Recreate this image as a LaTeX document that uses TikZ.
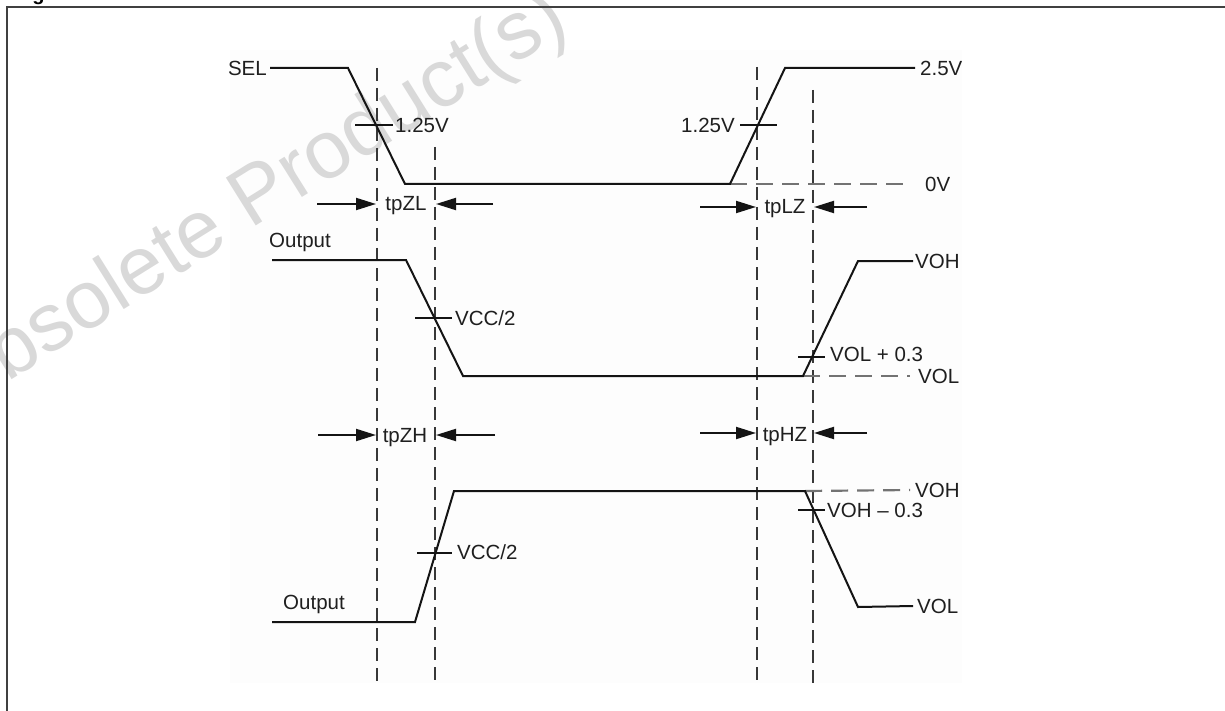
\documentclass[tikz,border=0pt]{standalone}
\usepackage{fontspec}
\setmainfont{Liberation Sans}
\usetikzlibrary{arrows.meta}
\begin{document}
\begin{tikzpicture}[x=1pt,y=-1pt,
  lbl/.style={inner sep=0pt, text height=14.7pt, text depth=0pt, font=\fontsize{20.5}{24}\selectfont, text=black!88},
  sig/.style={line width=2pt, draw=black!92, line join=miter},
  vdash/.style={line width=2.2pt, draw=black!78, dash pattern=on 13pt off 7pt},
  hdash/.style={line width=2.2pt, draw=black!55, dash pattern=on 17pt off 9pt},
  tickmark/.style={line width=2pt, draw=black!92},
  arr/.style={line width=2pt, draw=black!92, -{Triangle[length=20pt,width=12pt]}},
  wm/.style={font=\fontsize{82}{90}\selectfont, text=black!15, inner sep=0pt}]
\useasboundingbox (0,0) rectangle (1225,711);
% faint figure background
\fill[black!0.8] (230,50) rectangle (962,683);
% watermark
\node[wm, rotate=32, anchor=base west] (wmark) at (-47,416) {Obsolete Product(s)};
% frame and cut title
\draw[line width=2.2pt, draw=black!75] (7,711) -- (7,7) -- (1225,7);
\node[font=\bfseries\fontsize{20}{24}\selectfont, anchor=base, inner sep=0pt] (gcut) at (38.5,0.5) {g};

% vertical dashed guide lines
\coordinate (a1) at (377,68);  \coordinate (a2) at (377,683);
\coordinate (b1) at (435,147); \coordinate (b2) at (435,683);
\coordinate (c1) at (757,67);  \coordinate (c2) at (757,683);
\coordinate (d1) at (813,90);  \coordinate (d2) at (813,683);
\draw[vdash] (a1) -- (a2);
\draw[vdash] (b1) -- (b2);
\draw[vdash] (c1) -- (c2);
\draw[vdash] (d1) -- (d2);

% ---------- SEL ----------
\node[lbl, anchor=east] (sel) at (267,68) {SEL};
\node[lbl, anchor=west] (v25) at (920,68) {2.5V};
\node[lbl, anchor=west] (v0) at (925,184) {0V};
\coordinate (s1) at (348,68);
\coordinate (s2) at (405,184);
\coordinate (s3) at (730,184);
\coordinate (s4) at (785,68);
\draw[hdash] (s3) -- ([xshift=-17pt]v0.west);
\draw[sig] ([xshift=3pt]sel.east) -- (s1) -- (s2) -- (s3) -- (s4) -- ([xshift=-5pt]v25.west);
\coordinate (k1l) at (355,125); \coordinate (k1r) at (393,125);
\draw[tickmark] (k1l) -- (k1r);
\node[lbl, anchor=west] (l125a) at (395,125) {1.25V};
\coordinate (k2l) at (740,125); \coordinate (k2r) at (777,125);
\draw[tickmark] (k2l) -- (k2r);
\node[lbl, anchor=east] (l125b) at (735,125) {1.25V};

% tpZL / tpLZ
\node[lbl, anchor=center] (tpzl) at (406,203) {tpZL};
\coordinate (p1) at (317,204); \coordinate (p2) at (376,204);
\coordinate (p3) at (493,204); \coordinate (p4) at (436,204);
\draw[arr] (p1) -- (p2);
\draw[arr] (p3) -- (p4);
\node[lbl, anchor=center] (tplz) at (785,206) {tpLZ};
\coordinate (q1) at (700,207); \coordinate (q2) at (756,207);
\coordinate (q3) at (867,207); \coordinate (q4) at (814,207);
\draw[arr] (q1) -- (q2);
\draw[arr] (q3) -- (q4);

% ---------- Output 1 ----------
\node[lbl, anchor=west] (out1) at (269,240) {Output};
\node[lbl, anchor=west] (voh1) at (915,261) {VOH};
\node[lbl, anchor=west] (vol1) at (918,376) {VOL};
\coordinate (o0) at (272,260);
\coordinate (o1) at (406,260);
\coordinate (o2) at (463,376);
\coordinate (o3) at (803,376);
\coordinate (o4) at (858,261);
\draw[hdash] (o3) -- ([xshift=-8pt]vol1.west);
\draw[sig] (o0) -- (o1) -- (o2) -- (o3) -- (o4) -- ([xshift=-2pt]voh1.west);
\coordinate (k3l) at (415,318); \coordinate (k3r) at (452,318);
\draw[tickmark] (k3l) -- (k3r);
\node[lbl, anchor=west] (vcc1) at (455,318) {VCC/2};
\coordinate (k4l) at (798,357); \coordinate (k4r) at (825,357);
\draw[tickmark] (k4l) -- (k4r);
\node[lbl, anchor=west] (vol03) at (830,354) {VOL + 0.3};

% tpZH / tpHZ
\node[lbl, anchor=center] (tpzh) at (405,435) {tpZH};
\coordinate (r1) at (318,435); \coordinate (r2) at (376,435);
\coordinate (r3) at (495,435); \coordinate (r4) at (436,435);
\draw[arr] (r1) -- (r2);
\draw[arr] (r3) -- (r4);
\node[lbl, anchor=center] (tphz) at (785,434) {tpHZ};
\coordinate (u1) at (700,433); \coordinate (u2) at (756,433);
\coordinate (u3) at (867,433); \coordinate (u4) at (814,433);
\draw[arr] (u1) -- (u2);
\draw[arr] (u3) -- (u4);

% ---------- Output 2 ----------
\node[lbl, anchor=west] (out2) at (283,602) {Output};
\node[lbl, anchor=west] (voh2) at (915,490) {VOH};
\node[lbl, anchor=west] (vol2) at (917,606) {VOL};
\coordinate (w0) at (272,622);
\coordinate (w1) at (415,622);
\coordinate (w2) at (454,491);
\coordinate (w3) at (805,491);
\coordinate (w4) at (858,607);
\draw[hdash] (w3) -- ([xshift=-5pt]voh2.west);
\draw[sig] (w0) -- (w1) -- (w2) -- (w3) -- (w4) -- ([xshift=-4pt]vol2.west);
\coordinate (k5l) at (417,553); \coordinate (k5r) at (452,553);
\draw[tickmark] (k5l) -- (k5r);
\node[lbl, anchor=west] (vcc2) at (457,552) {VCC/2};
\coordinate (k6l) at (798,510); \coordinate (k6r) at (825,510);
\draw[tickmark] (k6l) -- (k6r);
\node[lbl, anchor=west] (voh03) at (827,510) {VOH – 0.3};
\end{tikzpicture}
\end{document}
